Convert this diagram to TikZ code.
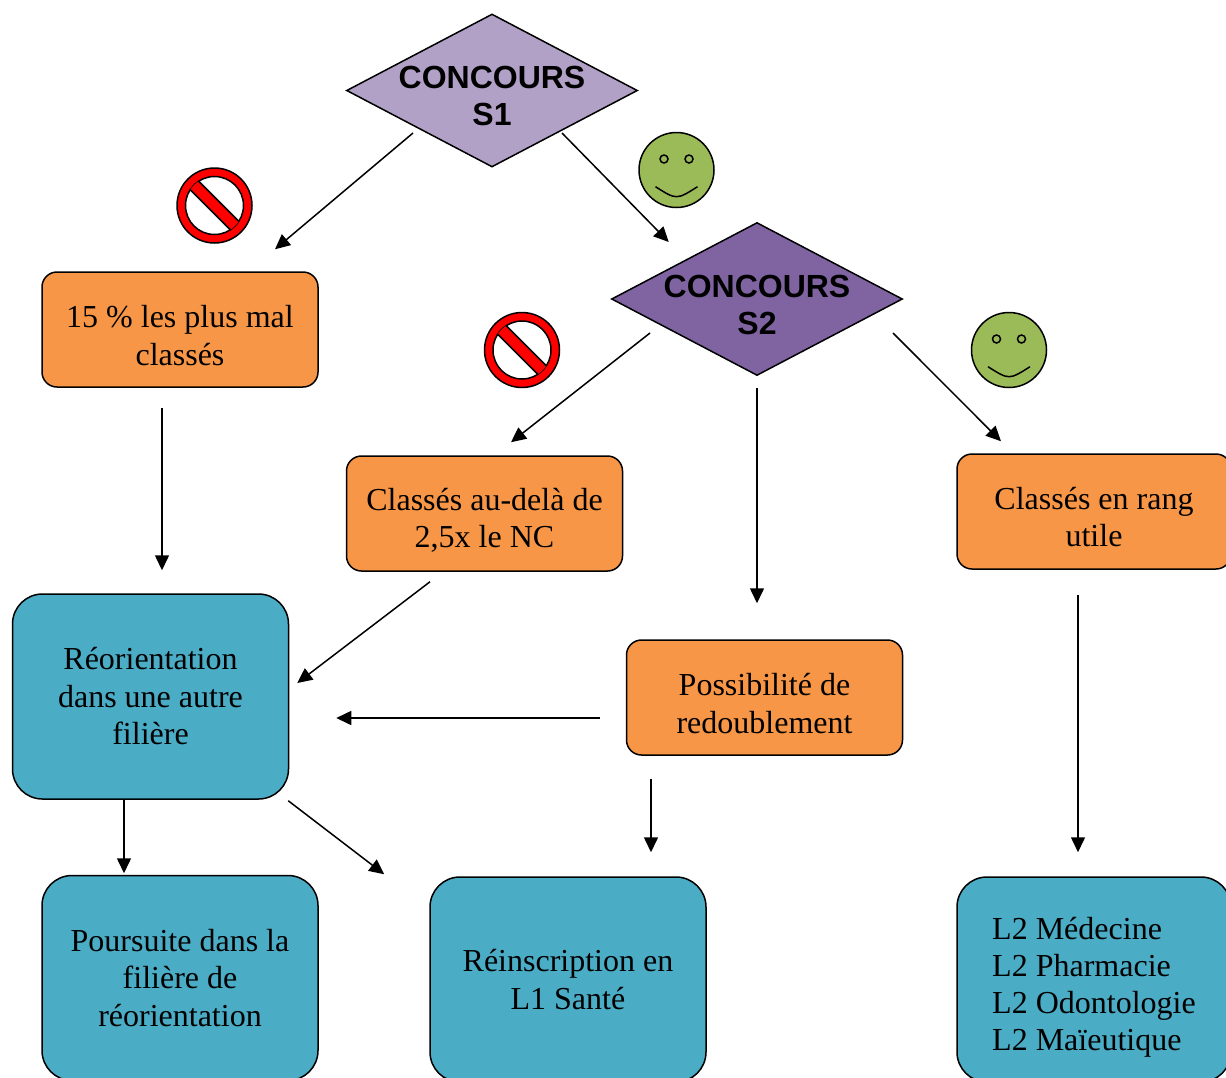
\documentclass[tikz,border=0pt]{standalone}
\usepackage{fontspec}
\setmainfont{Liberation Serif}
\setsansfont{Liberation Sans}
\usetikzlibrary{shapes.geometric, arrows.meta}
\definecolor{concoursun}{HTML}{B2A1C7}
\definecolor{concoursdeux}{HTML}{8064A2}
\definecolor{orangebox}{HTML}{F79646}
\definecolor{bluebox}{HTML}{4BACC6}
\definecolor{smilegreen}{HTML}{9BBB59}
\newcommand{\haut}[1]{\rule{0pt}{#1}}
\tikzstyle{concours} = [diamond, minimum width=291pt, minimum height=153pt, inner sep=0pt, draw=black, line width=1.5pt]
\tikzstyle{concourstext} = [font=\sffamily\bfseries\fontsize{32}{37}\selectfont, align=center, yshift=-5.5pt]
\tikzstyle{choix} = [rectangle, rounded corners=15pt, minimum width=276pt, minimum height=115pt, align=center, draw=black, line width=1.5pt, fill=orangebox]
\tikzstyle{issue} = [rectangle, rounded corners=30pt, minimum width=276pt, minimum height=205pt, align=center, draw=black, line width=1.5pt, fill=bluebox]
\tikzstyle{smiley} = [circle, minimum size=75pt, inner sep=0pt, draw=black, line width=1.5pt, fill=smilegreen]
\tikzstyle{interdit} = [circle, minimum size=75pt, inner sep=0pt, draw=black, line width=1.5pt, fill=red]
\tikzstyle{arrow} = [line width=1.5pt, -{Triangle[length=15pt,width=14pt]}]

\begin{document}
\begin{tikzpicture}[x=1pt, y=-1pt, font=\fontsize{32}{37.5}\selectfont]
\useasboundingbox (0,0) rectangle (1226,1077);
\clip (0,0) rectangle (1226,1077);

\node (s1) [concours, fill=concoursun, label={[concourstext]center:CONCOURS\\S1}] at (492,90.5) {};
\node (s2) [concours, fill=concoursdeux, label={[concourstext]center:CONCOURS\\S2}] at (757,299) {};

\node (a) [choix] at (180,329.5) {\haut{34pt}15 \% les plus mal\\classés};
\node (b) [choix] at (484.5,513.5) {\haut{36pt}Classés au-delà de\\2,5x le NC};
\node (c) [choix, minimum width=274pt] at (1094,511.5) {\haut{33pt}Classés en rang\\utile};
\node (d) [choix] at (764.5,697.5) {\haut{34pt}Possibilité de\\redoublement};
\node (e) [issue] at (150.5,696.5) {Réorientation\\dans une autre\\filière};
\node (f) [issue] at (180,978) {Poursuite dans la\\filière de\\réorientation};
\node (g) [issue] at (568,979.5) {Réinscription en\\L1 Santé};
\node (h) [issue, align=left, minimum width=274pt, font=\fontsize{32}{37}\selectfont] at (1094,979.5) {\haut{38pt}L2 Médecine\\L2 Pharmacie\\L2 Odontologie\\L2 Maïeutique};

\node (ok1) [smiley] at (676.5,170) {};
\node (ok2) [smiley] at (1009,350) {};
\node (no1) [interdit] at (214.5,205.5) {};
\node (no2) [interdit] at (522,350) {};

% visages
\begin{scope}[shift={(ok1.center)}, line width=1.5pt]
\draw (-12.5,-11) circle (4);
\draw (12.5,-11) circle (4);
\draw (-21,16.7) .. controls (0,30) .. (21,16.7);
\end{scope}
\begin{scope}[shift={(ok2.center)}, line width=1.5pt]
\draw (-12.5,-11) circle (4);
\draw (12.5,-11) circle (4);
\draw (-21,16.7) .. controls (0,30) .. (21,16.7);
\end{scope}

% sens interdit
\begin{scope}[shift={(no1.center)}, line width=1.5pt]
\draw [fill=white] (0,0) circle (29);
\clip (0,0) circle (29);
\draw [fill=red, rotate=-45] (-32,-6) rectangle (32,6);
\end{scope}
\begin{scope}[shift={(no2.center)}, line width=1.5pt]
\draw [fill=white] (0,0) circle (29);
\clip (0,0) circle (29);
\draw [fill=red, rotate=-45] (-32,-6) rectangle (32,6);
\end{scope}

\draw [arrow] ([shift={(-79,42.5)}]s1.center) -- ([shift={(95,-22)}]a.north);
\draw [arrow] ([shift={(70,42.5)}]s1.center) -- ([shift={(58,-57)}]s2.west);
\draw [arrow] ([shift={(-18,20)}]a.south) -- ([shift={(11.5,-23)}]e.north);
\draw [arrow] ([shift={(-107,34)}]s2.center) -- ([shift={(26.5,-13)}]b.north);
\draw [arrow] ([shift={(0,12)}]s2.south) -- ([shift={(-7.5,-36)}]d.north);
\draw [arrow] ([shift={(136,34)}]s2.center) -- ([shift={(-93,-12)}]c.north);
\draw [arrow] ([shift={(-54.5,10)}]b.south) -- ([shift={(8,-13.5)}]e.east);
\draw [arrow] ([shift={(-26,20.5)}]d.west) -- ([shift={(47,21.5)}]e.east);
\draw [arrow] ([shift={(-16,25)}]c.south) -- ([shift={(-16,-24)}]h.north);
\draw [arrow] ([shift={(-26.5,0)}]e.south) -- ([shift={(-56,-1.5)}]f.north);
\draw [arrow] ([shift={(-1,1)}]e.south east) -- ([shift={(-45,-2)}]g.north west);
\draw [arrow] ([shift={(-113.5,23)}]d.south) -- ([shift={(83,-24)}]g.north);

\end{tikzpicture}
\end{document}
